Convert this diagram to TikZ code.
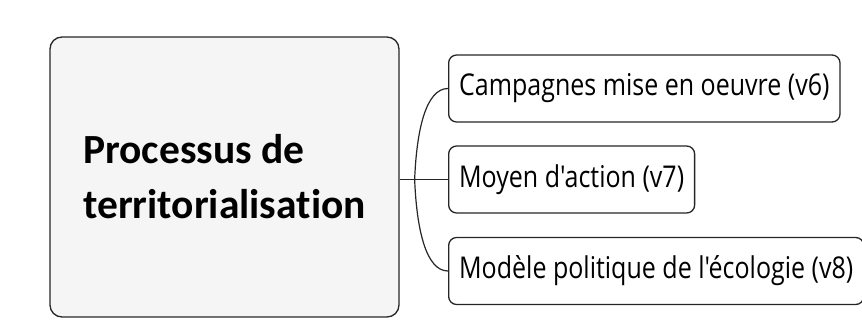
\documentclass[tikz,border=0pt]{standalone}
\usepackage{fontspec}
\usepackage{graphicx}
\setmainfont{Carlito}[Ligatures=CommonOff]
\newfontfamily\leaffont{Open Sans}
% the branch labels are set in a slightly tall cut
\newcommand\tallrow[1]{\scalebox{1}[1.2]{#1}}
\begin{document}
\begin{tikzpicture}[x=1pt,y=-1pt,
  outline/.style={draw=black!85, line width=1.3pt, rounded corners=8pt},
  rootbox/.style={outline, rounded corners=12pt, fill=black!4,
    minimum width=349pt, minimum height=280pt, align=left,
    font=\fontsize{41.5}{55}\selectfont\bfseries},
  leafbox/.style={outline, fill=white, anchor=west, minimum height=67pt,
    inner xsep=10.5pt, inner ysep=0pt,
    font=\fontsize{25}{30}\selectfont\leaffont},
  link/.style={draw=black!85, line width=1.2pt}]
\useasboundingbox (0,0) rectangle (862,320);

% central topic
\node[rootbox] (root) at (224.5,177) {Processus de\\territorialisation};

% branches
\node[leafbox] (v6) at (448,88.5)  {\tallrow{Campagnes mise en oeuvre (v6)}};
\node[leafbox] (v7) at (448,179.5) {\tallrow{Moyen d'action (v7)}};
\node[leafbox] (v8) at (448,271)   {\tallrow{Modèle politique de l'écologie (v8)}};

% connectors
\coordinate (j) at ([xshift=15pt]root.east |- v7.west);
\draw[link] (root.east |- v7.west) -- (v7.west);
\draw[link] (j) .. controls +(2,-50) and +(-22,0) .. (v6.west);
\draw[link] (j) .. controls +(2,50) and +(-22,0) .. (v8.west);
\end{tikzpicture}
\end{document}
